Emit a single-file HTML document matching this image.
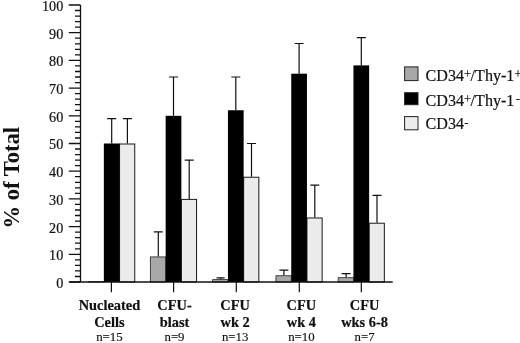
<!DOCTYPE html>
<html><head><meta charset="utf-8"><title>chart</title>
<style>
html,body{margin:0;padding:0;background:#fff;}
svg{display:block;}
text{font-family:"Liberation Serif","DejaVu Serif",serif;fill:#111;}
.yl{font-size:14.2px;stroke:#111;stroke-width:0.2px;}
.xl{font-size:14.4px;font-weight:bold;stroke:#111;stroke-width:0.2px;}
.nl{font-size:12.8px;stroke:#111;stroke-width:0.15px;}
.yt{font-size:22.6px;font-weight:bold;}
.lg{font-size:16.1px;stroke:#111;stroke-width:0.2px;}
</style></head><body>
<svg width="520" height="343" viewBox="0 0 520 343">
<rect width="520" height="343" fill="#fff"/>

<path d="M111.7 143.5V118.6M107.2 118.6H116.2" stroke="#111" stroke-width="1.2" fill="none"/>
<path d="M127.4 143.5V118.6M122.9 118.6H131.9" stroke="#111" stroke-width="1.2" fill="none"/>
<rect x="88.55" y="281.71" width="15.30" height="0.29" fill="#a8a8a8" stroke="#222" stroke-width="0.8"/>
<rect x="119.55" y="144.00" width="15.20" height="138.00" fill="#ececec" stroke="#1a1a1a" stroke-width="1"/>
<rect x="103.85" y="143.50" width="15.70" height="138.50" fill="#000"/>
<path d="M158.3 256.5V231.9M153.8 231.9H162.8" stroke="#111" stroke-width="1.2" fill="none"/>
<path d="M173.5 115.8V77.0M169.0 77.0H178.0" stroke="#111" stroke-width="1.2" fill="none"/>
<path d="M189.2 198.9V160.1M184.7 160.1H193.7" stroke="#111" stroke-width="1.2" fill="none"/>
<rect x="150.35" y="256.92" width="15.30" height="25.08" fill="#a8a8a8" stroke="#222" stroke-width="0.8"/>
<rect x="181.35" y="199.40" width="15.20" height="82.60" fill="#ececec" stroke="#1a1a1a" stroke-width="1"/>
<rect x="165.65" y="115.80" width="15.70" height="166.20" fill="#000"/>
<path d="M220.6 279.2V277.8M216.6 277.8H224.6" stroke="#111" stroke-width="1.2" fill="none"/>
<path d="M235.8 110.3V77.0M231.3 77.0H240.3" stroke="#111" stroke-width="1.2" fill="none"/>
<path d="M251.5 176.7V143.5M247.0 143.5H256.0" stroke="#111" stroke-width="1.2" fill="none"/>
<rect x="212.65" y="279.63" width="15.30" height="2.37" fill="#a8a8a8" stroke="#222" stroke-width="0.8"/>
<rect x="243.65" y="177.24" width="15.20" height="104.76" fill="#ececec" stroke="#1a1a1a" stroke-width="1"/>
<rect x="227.95" y="110.26" width="15.70" height="171.74" fill="#000"/>
<path d="M283.9 275.4V270.1M279.4 270.1H288.4" stroke="#111" stroke-width="1.2" fill="none"/>
<path d="M299.1 73.7V43.5M294.6 43.5H303.6" stroke="#111" stroke-width="1.2" fill="none"/>
<path d="M314.8 217.5V185.1M310.3 185.1H319.3" stroke="#111" stroke-width="1.2" fill="none"/>
<rect x="275.95" y="275.75" width="15.30" height="6.25" fill="#a8a8a8" stroke="#222" stroke-width="0.8"/>
<rect x="306.95" y="217.96" width="15.20" height="64.04" fill="#ececec" stroke="#1a1a1a" stroke-width="1"/>
<rect x="291.25" y="73.70" width="15.70" height="208.30" fill="#000"/>
<path d="M346.1 277.3V273.6M341.6 273.6H350.6" stroke="#111" stroke-width="1.2" fill="none"/>
<path d="M361.3 65.4V37.7M356.8 37.7H365.8" stroke="#111" stroke-width="1.2" fill="none"/>
<path d="M377.0 222.7V195.3M372.5 195.3H381.5" stroke="#111" stroke-width="1.2" fill="none"/>
<rect x="338.15" y="277.69" width="15.30" height="4.31" fill="#a8a8a8" stroke="#222" stroke-width="0.8"/>
<rect x="369.15" y="223.22" width="15.20" height="58.78" fill="#ececec" stroke="#1a1a1a" stroke-width="1"/>
<rect x="353.45" y="65.39" width="15.70" height="216.61" fill="#000"/>
<path d="M80.5 5.0V282.0" stroke="#111" stroke-width="1.3" fill="none"/>
<path d="M69.5 282.0H392.7" stroke="#111" stroke-width="1.3" fill="none"/>
<path d="M68.8 282.0H80.5M75 276.5H80.5M75 270.9H80.5M75 265.4H80.5M75 259.8H80.5M68.8 254.3H80.5M75 248.8H80.5M75 243.2H80.5M75 237.7H80.5M75 232.1H80.5M68.8 226.6H80.5M75 221.1H80.5M75 215.5H80.5M75 210.0H80.5M75 204.4H80.5M68.8 198.9H80.5M75 193.4H80.5M75 187.8H80.5M75 182.3H80.5M75 176.7H80.5M68.8 171.2H80.5M75 165.7H80.5M75 160.1H80.5M75 154.6H80.5M75 149.0H80.5M68.8 143.5H80.5M75 138.0H80.5M75 132.4H80.5M75 126.9H80.5M75 121.3H80.5M68.8 115.8H80.5M75 110.3H80.5M75 104.7H80.5M75 99.2H80.5M75 93.6H80.5M68.8 88.1H80.5M75 82.6H80.5M75 77.0H80.5M75 71.5H80.5M75 65.9H80.5M68.8 60.4H80.5M75 54.9H80.5M75 49.3H80.5M75 43.8H80.5M75 38.2H80.5M68.8 32.7H80.5M75 27.2H80.5M75 21.6H80.5M75 16.1H80.5M75 10.5H80.5M68.8 5.0H80.5" stroke="#111" stroke-width="1.3" fill="none"/>
<path d="M111.4 282.0V292.2M173.6 282.0V292.2M236.3 282.0V292.2M299.3 282.0V292.2M361.3 282.0V292.2" stroke="#111" stroke-width="1.2" fill="none"/>
<text x="63.3" y="287.9" text-anchor="end" class="yl">0</text>
<text x="63.3" y="260.2" text-anchor="end" class="yl">10</text>
<text x="63.3" y="232.5" text-anchor="end" class="yl">20</text>
<text x="63.3" y="204.8" text-anchor="end" class="yl">30</text>
<text x="63.3" y="177.1" text-anchor="end" class="yl">40</text>
<text x="63.3" y="149.4" text-anchor="end" class="yl">50</text>
<text x="63.3" y="121.7" text-anchor="end" class="yl">60</text>
<text x="63.3" y="94.0" text-anchor="end" class="yl">70</text>
<text x="63.3" y="66.3" text-anchor="end" class="yl">80</text>
<text x="63.3" y="38.6" text-anchor="end" class="yl">90</text>
<text x="63.3" y="10.9" text-anchor="end" class="yl">100</text>
<text x="109.4" y="310.0" text-anchor="middle" class="xl">Nucleated</text>
<text x="109.4" y="327.1" text-anchor="middle" class="xl">Cells</text>
<text x="109.4" y="341.4" text-anchor="middle" class="nl">n=15</text>
<text x="174.5" y="310.0" text-anchor="middle" class="xl">CFU-</text>
<text x="174.5" y="327.1" text-anchor="middle" class="xl">blast</text>
<text x="174.5" y="341.4" text-anchor="middle" class="nl">n=9</text>
<text x="235.1" y="310.0" text-anchor="middle" class="xl">CFU</text>
<text x="235.1" y="327.1" text-anchor="middle" class="xl">wk 2</text>
<text x="235.1" y="341.4" text-anchor="middle" class="nl">n=13</text>
<text x="301.4" y="310.0" text-anchor="middle" class="xl">CFU</text>
<text x="301.4" y="327.1" text-anchor="middle" class="xl">wk 4</text>
<text x="301.4" y="341.4" text-anchor="middle" class="nl">n=10</text>
<text x="364.6" y="310.0" text-anchor="middle" class="xl">CFU</text>
<text x="364.6" y="327.1" text-anchor="middle" class="xl">wks 6-8</text>
<text x="364.6" y="341.4" text-anchor="middle" class="nl">n=7</text>
<text transform="translate(18.8,228.6) rotate(-90)" class="yt">% of Total</text>
<rect x="404.6" y="66.9" width="13.4" height="13.7" fill="#a8a8a8" stroke="#222" stroke-width="1"/>
<text x="425.6" y="80.8" class="lg">CD34<tspan dy="-2.6" font-size="12.3">+</tspan><tspan dy="2.6" dx="-0.4" font-size="16.1">&#8203;</tspan>/Thy-1<tspan dy="-2.6" font-size="12.3">+</tspan><tspan dy="2.6" dx="-0.4" font-size="16.1">&#8203;</tspan></text>
<rect x="404.6" y="92.7" width="13.4" height="12.0" fill="#000" stroke="#222" stroke-width="1"/>
<text x="425.6" y="105.55" class="lg">CD34<tspan dy="-2.6" font-size="12.3">+</tspan><tspan dy="2.6" dx="-0.4" font-size="16.1">&#8203;</tspan>/Thy-1<tspan dy="-3.4" dx="1.6" font-size="11.5">-</tspan><tspan dy="3.4" font-size="16.1">&#8203;</tspan></text>
<rect x="404.6" y="116.6" width="13.4" height="13.2" fill="#ececec" stroke="#222" stroke-width="1"/>
<text x="425.6" y="129.4" class="lg">CD34<tspan dy="-3.4" dx="0.4" font-size="11.5">-</tspan><tspan dy="3.4" font-size="16.1">&#8203;</tspan></text>
</svg>
</body></html>
